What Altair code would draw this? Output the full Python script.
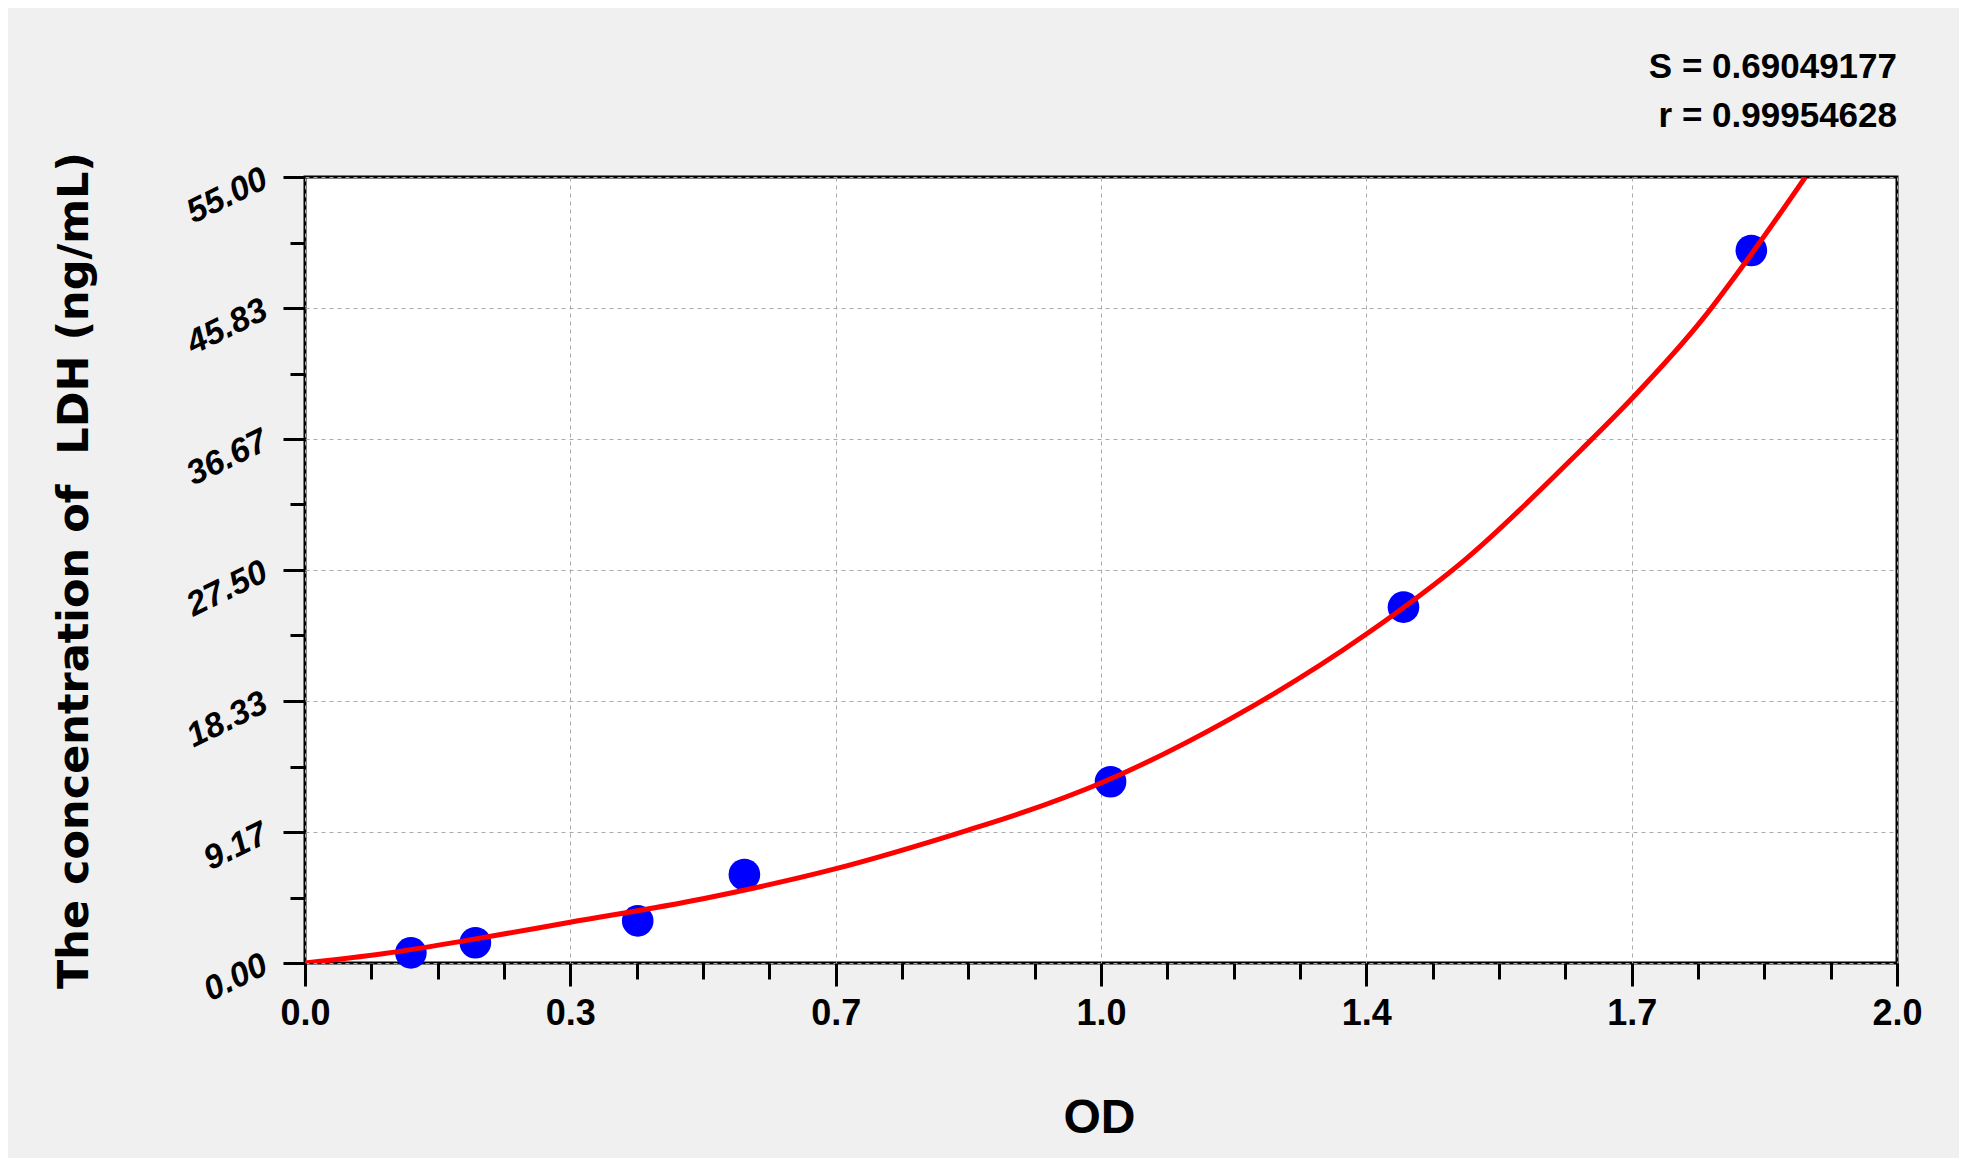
import altair as alt
import pandas as pd

# ---- data ----
point_od = [0.133, 0.214, 0.418, 0.552, 1.012, 1.380, 1.817]
point_conc = [0.71, 1.42, 2.95, 6.19, 12.68, 24.9, 49.86]

curve_od = [0.0, 0.1, 0.2, 0.333, 0.5, 0.667, 0.833, 0.9, 1.0, 1.163, 1.333,
            1.459, 1.603, 1.667, 1.755, 1.817, 1.885]
curve_conc = [0.0, 0.66, 1.55, 2.85, 4.5, 6.6, 9.3, 10.5, 12.6, 17.1, 23.0,
              28.3, 35.9, 39.5, 45.0, 49.6, 55.0]

x_labels = ["0.0", "0.3", "0.7", "1.0", "1.4", "1.7", "2.0"]
y_labels = ["0.00", "9.17", "18.33", "27.50", "36.67", "45.83", "55.00"]
stats_text = ["S = 0.69049177", "r = 0.99954628"]
y_title = "The concentration of\u00a0 LDH (ng/mL)"
x_title = "OD"

X_MAX = 2.0
Y_MAX = 55.0

x_ticks = [i * X_MAX / 24 for i in range(25)]
y_ticks = [i * Y_MAX / 24 for i in range(25)]

points = pd.DataFrame({"od": point_od, "conc": point_conc})
curve = pd.DataFrame({"od": curve_od, "conc": curve_conc})

FONT = "Liberation Sans"
TITLE_FONT = "DejaVu Sans"

x_major = "abs(datum.value*3 - round(datum.value*3)) < 0.000001"
y_major = "abs(datum.value*6/55 - round(datum.value*6/55)) < 0.000001"
x_arr = "[" + ",".join("'%s'" % s for s in x_labels) + "]"
y_arr = "[" + ",".join("'%s'" % s for s in y_labels) + "]"

x_axis = alt.Axis(
    values=x_ticks,
    title=x_title,
    labelExpr=f"({x_major}) ? {x_arr}[round(datum.value*3)] : ''",
    labelOverlap=False,
    labelFlush=False,
    labelFont=FONT, labelFontSize=36, labelFontWeight="bold", labelColor="black",
    labelPadding=10,
    tickSize={"condition": {"test": x_major, "value": 23}, "value": 16},
    tickWidth=3, tickColor="black",
    grid=True,
    gridOpacity={"condition": {"test": x_major, "value": 1}, "value": 0},
    gridColor="#aaaaaa", gridDash=[4, 4], gridWidth=1,
    domain=False,
    titleFont=FONT, titleFontSize=48, titleFontWeight="bold", titleColor="black",
    titleX=794, titleY=169, titleBaseline="alphabetic", titleAlign="center",
)

y_axis = alt.Axis(
    values=y_ticks,
    title=y_title,
    labelExpr=f"({y_major}) ? {y_arr}[round(datum.value*6/55)] : ''",
    labelOverlap=False,
    labelFlush=False,
    labelAngle=334,
    labelAlign="right", labelBaseline="middle",
    labelFont=FONT, labelFontSize=34, labelFontWeight="bold", labelFontStyle="italic",
    labelColor="black",
    labelPadding=18,
    tickSize={"condition": {"test": y_major, "value": 22}, "value": 15},
    tickWidth=3, tickColor="black",
    grid=True,
    gridOpacity={"condition": {"test": y_major, "value": 1}, "value": 0},
    gridColor="#aaaaaa", gridDash=[4, 4], gridWidth=1,
    domain=False,
    titleFont=TITLE_FONT, titleFontSize=43, titleFontWeight="bold", titleColor="black",
    titleAngle=270, titleX=-218, titleY=393, titleBaseline="alphabetic",
    titleAlign="center",
)

x_scale = alt.Scale(domain=[0, X_MAX], nice=False, zero=False)
y_scale = alt.Scale(domain=[0, Y_MAX], nice=False, zero=False)

line = alt.Chart(curve).mark_line(
    color="#ff0000", strokeWidth=5, interpolate="monotone", clip=True
).encode(
    x=alt.X("od:Q", scale=x_scale, axis=x_axis),
    y=alt.Y("conc:Q", scale=y_scale, axis=y_axis),
)

dots = alt.Chart(points).mark_circle(
    color="#0000ff", opacity=1, size=1000
).encode(
    x=alt.X("od:Q", scale=x_scale),
    y=alt.Y("conc:Q", scale=y_scale),
)

stats = pd.DataFrame({"txt": stats_text, "row": [0, 1]})
stat_s = alt.Chart(stats[stats.row == 0]).mark_text(
    align="right", baseline="alphabetic", font=FONT, fontSize=35,
    fontWeight="bold", color="black"
).encode(text="txt:N", x=alt.value(1592), y=alt.value(-99))
stat_r = alt.Chart(stats[stats.row == 1]).mark_text(
    align="right", baseline="alphabetic", font=FONT, fontSize=35,
    fontWeight="bold", color="black"
).encode(text="txt:N", x=alt.value(1592), y=alt.value(-50))

chart = alt.layer(dots, line, stat_s, stat_r).properties(
    width=1592, height=786,
    autosize=alt.AutoSizeParams(type="none"),
    padding={"left": 297, "top": 169, "right": 62, "bottom": 195},
    background="#f0f0f0",
).configure_view(
    fill="white", stroke="black", strokeWidth=3
)

chart.save("out.html", embed_options={"renderer": "svg", "actions": False})
